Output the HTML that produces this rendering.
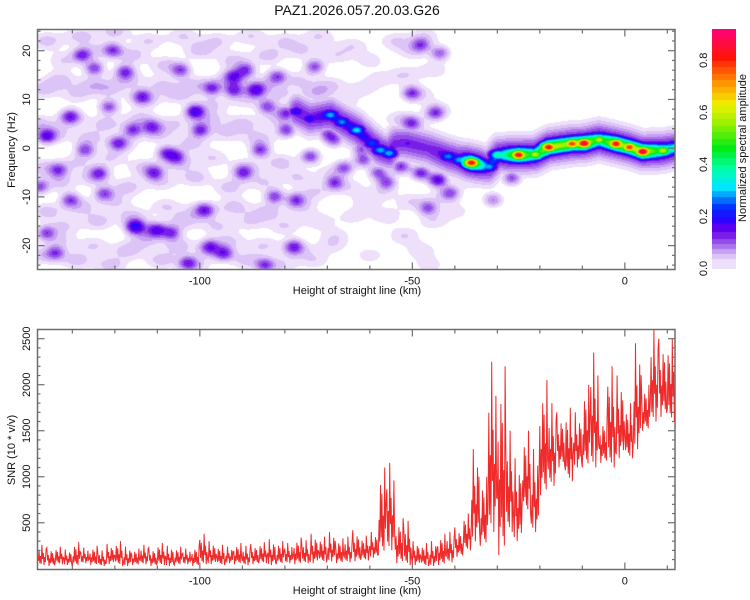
<!DOCTYPE html>
<html><head><meta charset="utf-8">
<style>
html,body{margin:0;padding:0;background:#fff;}
#wrap{position:relative;width:750px;height:600px;overflow:hidden;font-family:"Liberation Sans",sans-serif;}
canvas{position:absolute;}
svg{position:absolute;left:0;top:0;}
text{font-family:"Liberation Sans",sans-serif;fill:#111;}
</style></head>
<body>
<div id="wrap">
<canvas id="heat" width="638" height="240" style="left:37px;top:29px;width:638px;height:240px"></canvas>
<canvas id="cbar" width="24" height="240" style="left:712px;top:29px;width:24px;height:240px"></canvas>
<svg id="svg" width="750" height="600">
<text x="357" y="15" text-anchor="middle" font-size="14">PAZ1.2026.057.20.03.G26</text>
<text x="357" y="294" text-anchor="middle" font-size="11">Height of straight line (km)</text>
<text x="357" y="594" text-anchor="middle" font-size="11">Height of straight line (km)</text>
<text transform="translate(15,150) rotate(-90)" text-anchor="middle" font-size="11">Frequency (Hz)</text>
<text transform="translate(15,450) rotate(-90)" text-anchor="middle" font-size="11">SNR (10 * v/v)</text>
<text transform="translate(746,148) rotate(-90)" text-anchor="middle" font-size="11">Normalized spectral amplitude</text>
<g id="axes"></g>
<g id="snr"></g>
</svg>
</div>
<script>
// ---- Spectrogram ridge data (km, Hz, amplitude)
const ridgeKm=[-77.2,-74.1,-69.3,-66.6,-63.1,-59.5,-57.5,-55.5,-53.9,-51.1,-46.4,-41.6,-38.9,-36.1,-32.1,-29.8,-25,-21.1,-17.9,-12.4,-9.6,-6.1,-2.1,1.1,4.2,8.9,12];
const ridgeHz=[7.5,6.1,6.8,5.4,3.7,1,-0.4,-1,1,1,0,-1.7,-2.4,-3,-3.8,-1.4,-1.4,-1.3,0.2,0.9,1,1.7,0.9,0.2,-0.7,-0.5,0];
const ridgeAmp=[0.2,0.2,0.3,0.28,0.32,0.25,0.3,0.3,0.12,0.15,0.12,0.28,0.3,0.85,0.3,0.4,0.85,0.6,0.85,0.8,0.9,0.6,0.85,0.8,0.9,0.6,0.45];
// ---- distinct noise blobs
const blobKm=[-127.7,-124.8,-117.6,-120.4,-130.5,-136.1,-121.4,-115.8,-111.3,-107.9,-101.1,-99.9,-97.1,-92,-86.9,-89.2,-92,-84.1,-79.6,-115.2,-110.1,-106.7,-123.7,-110.7,-105.6,-98.8,-82.4,-94.3,-77.9,-84.7,-89.8,-85.8,-79.6,-122.5,-130.5,-136.1,-133.3,-127,-119.2,-113.6,-104.5,-73,-81.8,-74,-68.3,-77.4,-50.2,-48,-43.5,-44.6,-50.2,-46.3,-41.1,-31,-61.5,-68.3,-137.8,-133.9,-97.7,-102.8,-44,-48,-26.6,-52.7,-58,-62,-56,-66,-70];
const blobHz=[19.1,16.4,15.7,20.1,6.5,2.4,8.5,3.7,4.4,-1,7.5,3.7,12.3,11.9,11.9,16,14.7,8.5,7.2,-16.1,-16.8,-17.4,-5.1,-5.1,-1.7,-12.7,-9.9,-21.6,-20.2,-24,-5.1,-0.4,3.7,-9.3,-10.6,-17.4,-4.5,-0.4,1,10.6,16,16.7,14.7,-1.7,-7.1,-10.6,11.3,21.2,19.5,7.2,5.2,-12.3,-9.2,-10.6,-2.4,1.7,-7.9,-21.5,-20.2,-23.6,-6.5,-5.1,-6.1,-3.8,-5,0,-7,-4,3];
const blobAmp=[0.14,0.13,0.13,0.12,0.13,0.15,0.12,0.13,0.12,0.13,0.19,0.14,0.13,0.14,0.16,0.13,0.13,0.12,0.13,0.2,0.14,0.13,0.12,0.13,0.12,0.12,0.13,0.13,0.13,0.12,0.12,0.13,0.13,0.12,0.12,0.12,0.12,0.12,0.12,0.12,0.12,0.12,0.12,0.13,0.12,0.12,0.12,0.11,0.11,0.12,0.11,0.11,0.11,0.09,0.12,0.11,0.12,0.11,0.12,0.13,0.18,0.15,0.12,0.14,0.12,0.11,0.12,0.11,0.11];
// ---- faint background speckle
const fillKm=[-136,-132,-128,-124,-120,-116,-112,-108,-104,-100,-96,-92,-88,-84,-80,-76,-72,-68,-64,
-137,-133,-129,-125,-121,-117,-113,-109,-105,-101,-97,-93,-89,-85,-81,-77,-73,-69,-62,-58,
-138,-134,-130,-126,-122,-118,-114,-110,-106,-102,-98,-94,-90,-86,-82,-72,-66,
-137,-133,-129,-125,-121,-117,-113,-109,-105,-101,-97,-93,-89,-85,-81,-77,-73,-69,-65,-61,-57,
-136,-132,-128,-124,-120,-116,-112,-108,-104,-100,-96,-92,-88,-84,-80,-76,-72,-68,-64,
-137,-133,-129,-125,-121,-117,-113,-109,-105,-101,-97,-93,-89,-85,-81,-77,-73,-69,
-54,-50,-47,-45,-52,-48,-44,-53,-49,-56,-52,-48,-45,-50,-43,-40,-46,-60,-60,-41,-36];
const fillHz=[22,18,23,20,24,19,22,17,23,20,22,18,23,19,22,20,23,19,21,
12,14,11,13,12,14,10,13,11,13,9,14,10,13,11,14,11,13,12,14,
5,3,6,2,5,1,6,3,5,1,6,3,5,2,6,12,9,
-4,-7,-3,-6,-2,-8,-4,-7,-3,-6,-2,-8,-4,-7,-3,-6,-9,-5,-8,-11,-9,
-13,-16,-12,-15,-11,-14,-17,-12,-15,-13,-16,-12,-15,-13,-16,-12,-15,-18,-14,
-22,-19,-23,-20,-24,-21,-19,-23,-20,-24,-21,-19,-23,-20,-24,-21,-23,-20,
22,20,23,16,15,11,8,6,4,-14,-18,-21,-15,-11,-10,-13,-24,-22,18,-3,-7];
const fillAmp=[.05,.04,.05,.04,.05,.05,.04,.05,.04,.05,.04,.05,.04,.05,.04,.04,.04,.035,.035,
.05,.05,.04,.05,.04,.05,.05,.04,.05,.05,.04,.05,.04,.05,.04,.04,.035,.035,.03,.03,
.05,.05,.04,.05,.05,.04,.05,.05,.04,.05,.05,.04,.05,.05,.04,.03,.035,
.05,.05,.04,.05,.04,.05,.05,.04,.05,.05,.04,.05,.05,.04,.05,.04,.04,.035,.035,.03,.03,
.05,.04,.05,.05,.04,.05,.05,.04,.05,.05,.04,.05,.04,.05,.04,.04,.035,.03,.03,
.05,.04,.05,.04,.05,.05,.04,.05,.05,.04,.05,.04,.05,.04,.04,.04,.035,.03,
.04,.04,.035,.035,.04,.035,.03,.04,.035,.035,.04,.035,.035,.04,.03,.03,.03,.03,.03,.03,.03];
// ---- SNR data: per 2 km, lower/upper envelope
const snrKm=[];for(let k=-138;k<=12;k+=2)snrKm.push(k);
const snrLow=[40,30,50,40,30,60,40,30,50,40,30,40,50,30,40,30,40,50,30, 50, 50,40,60,50,40,50,60,40,50,60,50,60, 60,70,80,60,70,80,90,
120,150,200,60,40,40,30,30,40,70,130,200,300,250,400,150,400,300,600,400,800,900,1100,950,1100,1100,1100,1150,1100,1200,1200,1300,1500,1600,1650,1600,1600];
const snrHigh=[260,230,240,210,290,230,250,200,270,300,240,220,260,230,280,250,240,220,250, 380, 300,260,240,280,250,270,290,320,300,280,340,310, 380,350,400,330,350,420,360,
400,1100,1150,550,520,300,280,300,380,400,450,600,1300,1000,2250,2200,1500,1200,1500,1300,2050,1800,1700,1750,1700,2000,2350,1650,2200,2100,1800,2450,2000,2600,2500,2500,2500];
// ---- ticks
const xMajor=[-100,-50,0];
const fTicks=[-20,-10,0,10,20];
const snrTicks=[500,1000,1500,2000,2500];
const cbTicks=[0,0.2,0.4,0.6,0.8];

const X0=37.5,X1=675,KMIN=-138.2,KMAX=11.8;
const TY0=29.5,TY1=269.5,FMIN=-24.9,FMAX=24.35;
const BY0=329.5,BY1=569.5,SMIN=-8,SMAX=2600;
const CMAX=0.92;
const sx=k=>X0+(k-KMIN)/(KMAX-KMIN)*(X1-X0);
const sf=f=>TY1-(f-FMIN)/(FMAX-FMIN)*(TY1-TY0);
const ss=v=>BY1-(v-SMIN)/(SMAX-SMIN)*(BY1-BY0);

function cmap(v){
  if(v<0.018)return[255,255,255];
  if(v<0.035)return[238,224,251];
  if(v<0.055)return[220,196,246];
  if(v<0.075)return[199,160,241];
  if(v<0.095)return[172,116,236];
  if(v<0.115)return[146,76,232];
  if(v<0.14)return[120,30,232];
  if(v<0.17)return[92,0,240];
  v=Math.floor(v/0.025)*0.025;
  const st=[[0.17,[48,0,255]],[0.22,[0,40,255]],[0.3,[0,230,255]],[0.37,[0,255,170]],[0.45,[0,235,20]],[0.55,[160,240,0]],[0.62,[240,240,0]],[0.7,[255,150,0]],[0.8,[255,20,10]],[0.92,[255,0,130]]];
  if(v>=0.92)return st[st.length-1][1];
  for(let i=0;i<st.length-1;i++){if(v<=st[i+1][0]){const t=(v-st[i][0])/(st[i+1][0]-st[i][0]);return st[i][1].map((c,j)=>Math.round(c+(st[i+1][1][j]-c)*t));}}
  return[255,0,130];
}

// heatmap
(function(){
  const cv=document.getElementById('heat'),ctx=cv.getContext('2d');
  const W=cv.width,H=cv.height,noise=new Float32Array(W*H),field=new Float32Array(W*H);
  const ox=37,oy=29;
  function blob(arr,mode,k,f,a,sk,sh){
    const cx=sx(k)-ox,cy=sf(f)-oy;
    const rx=sk*(X1-X0)/(KMAX-KMIN),ry=sh*(TY1-TY0)/(FMAX-FMIN);
    const x0=Math.max(0,Math.floor(cx-3*rx)),x1=Math.min(W-1,Math.ceil(cx+3*rx));
    const y0=Math.max(0,Math.floor(cy-3*ry)),y1=Math.min(H-1,Math.ceil(cy+3*ry));
    for(let y=y0;y<=y1;y++){const dy=(y+0.5-cy)/ry;for(let x=x0;x<=x1;x++){const dx=(x+0.5-cx)/rx;const v=a*Math.exp(-0.5*(dx*dx+dy*dy));const i=y*W+x;if(mode)arr[i]+=v;else if(v>arr[i])arr[i]=v;}}
  }
  for(let i=0;i<fillKm.length;i++)blob(noise,1,fillKm[i],fillHz[i],fillAmp[i]*0.9,2.6,1.3);
  for(let i=0;i<blobKm.length;i++)blob(noise,1,blobKm[i],blobHz[i],blobAmp[i]*0.85,1.5,1.0);
  for(let i=0;i<ridgeKm.length-1;i++){
    const n=Math.max(2,Math.ceil(Math.abs(ridgeKm[i+1]-ridgeKm[i])/0.25));
    for(let s=0;s<=n;s++){const t=s/n;const k=ridgeKm[i]+(ridgeKm[i+1]-ridgeKm[i])*t,f=ridgeHz[i]+(ridgeHz[i+1]-ridgeHz[i])*t,a=ridgeAmp[i]+(ridgeAmp[i+1]-ridgeAmp[i])*t;
      blob(field,0,k,f,Math.min(0.17,0.11+a*0.09),1.6,2.3);
      blob(field,0,k,f,a*0.7,1.1,1.15);}
  }
  for(let i=0;i<ridgeKm.length;i++)blob(field,0,ridgeKm[i],ridgeHz[i],ridgeAmp[i],1.6,0.85);
  const img=ctx.createImageData(W,H);
  for(let i=0;i<W*H;i++){const c=cmap(Math.max(field[i],noise[i]));img.data[i*4]=c[0];img.data[i*4+1]=c[1];img.data[i*4+2]=c[2];img.data[i*4+3]=255;}
  ctx.putImageData(img,0,0);
  // colorbar
  const cb=document.getElementById('cbar'),c2=cb.getContext('2d');
  for(let y=0;y<cb.height;y++){const v=(cb.height-1-y)/(cb.height-1)*CMAX;const c=cmap(Math.max(v,0.02));c2.fillStyle='rgb('+c.join(',')+')';c2.fillRect(0,y,cb.width,1);}
})();

const NS='http://www.w3.org/2000/svg';
function el(tag,attrs,parent,txt){const e=document.createElementNS(NS,tag);for(const a in attrs)e.setAttribute(a,attrs[a]);if(txt!==undefined)e.textContent=txt;parent.appendChild(e);return e;}
const axes=document.getElementById('axes');
const AX='#6e6e6e';
let fr=el('rect',{x:X0,y:TY0,width:X1-X0,height:TY1-TY0,fill:'none',stroke:AX,'stroke-width':1.5},axes);


fr=el('rect',{x:X0,y:BY0,width:X1-X0,height:BY1-BY0,fill:'none',stroke:AX,'stroke-width':1.5},axes);


function line(x1,y1,x2,y2){return el('line',{x1,y1,x2,y2,stroke:AX,'stroke-width':1.2},axes);}
for(let k=-130;k<=10;k+=10){
  const x=sx(k),major=xMajor.includes(k),L=major?7:4;
  [[TY0,TY1],[BY0,BY1]].forEach(([a,b])=>{const t1=line(x,a,x,a+L);const t2=line(x,b,x,b-L);});
}
xMajor.forEach(k=>{
  [TY1+15,BY1+15].forEach(y=>{const t=el('text',{x:sx(k),y:y,'text-anchor':'middle','font-size':11},axes,String(k));});
});
for(let f=-24;f<=24;f+=2){const y=sf(f),major=f%10===0,L=major?7:3;
  const a=line(X0,y,X0+L,y);
  const b=line(X1,y,X1-L,y);}
fTicks.forEach(f=>{const t=el('text',{transform:'translate(30,'+sf(f)+') rotate(-90)','text-anchor':'middle','font-size':11},axes,String(f));});
for(let v=100;v<=2600;v+=100){const y=ss(v),major=v%500===0,L=major?7:3;
  const a=line(X0,y,X0+L,y);
  const b=line(X1,y,X1-L,y);}
snrTicks.forEach(v=>{const t=el('text',{transform:'translate(30,'+ss(v)+') rotate(-90)','text-anchor':'middle','font-size':11},axes,String(v));});
const cy=v=>268.5-v/CMAX*(268.5-29);
cbTicks.forEach(v=>{const t=el('text',{transform:'translate(707,'+cy(v)+') rotate(-90)','text-anchor':'middle','font-size':11},axes,v.toFixed(1));});
const fr2=[0.2,0.7,0.1,0.45,0.05,1,0.3,0.6,0,0.4,0.15,0.8];
let pts=[];
for(let i=0;i<snrKm.length;i++){
  for(let j=0;j<fr2.length;j++){
    const k=snrKm[i]+j*2/fr2.length;
    if(k<KMIN||k>KMAX)continue;
    const v=snrLow[i]+fr2[(j+i*5)%fr2.length]*(snrHigh[i]-snrLow[i]);
    pts.push(sx(k).toFixed(1)+','+ss(v).toFixed(1));
  }
}
const g=document.getElementById('snr');
const pl=el('polyline',{points:pts.join(' '),fill:'none',stroke:'#ee2a2a','stroke-width':1,'stroke-linejoin':'miter'},g);


</script>
</body></html>
